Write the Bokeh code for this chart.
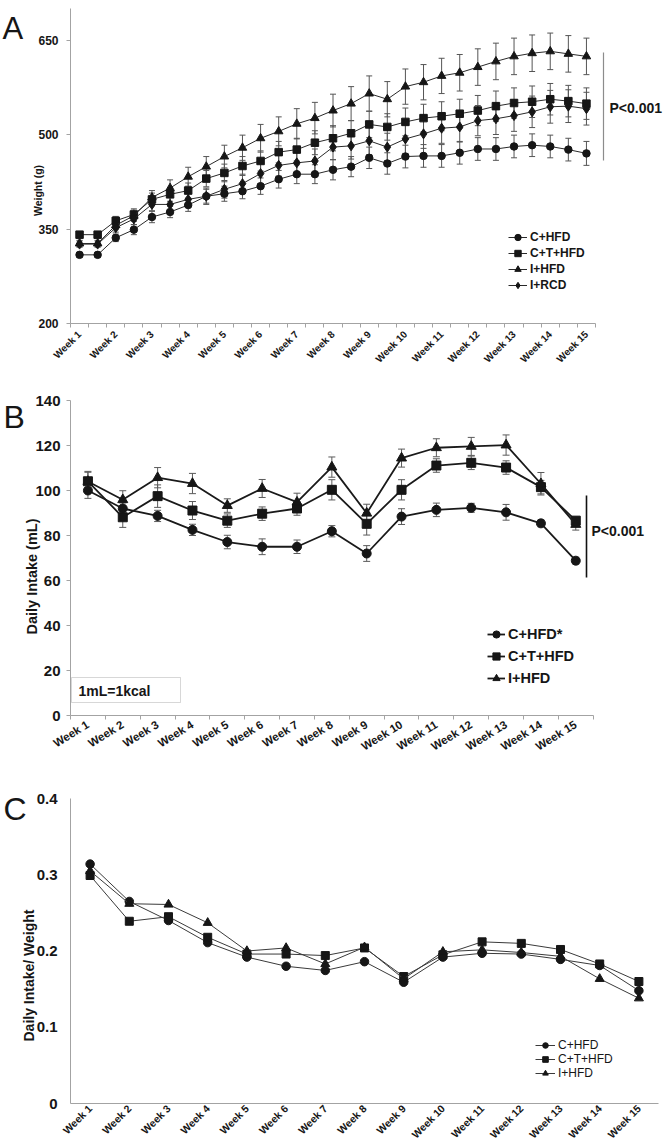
from math import pi
from bokeh.plotting import figure
from bokeh.layouts import column
from bokeh.models import (ColumnDataSource, Whisker, TeeHead, Legend, LegendItem,
                          FixedTicker, Label, BoxAnnotation, Range1d)
from bokeh.embed import file_html
from bokeh.resources import INLINE

FONT = "Liberation Sans"
INK = "#161616"
AXIS = "#a3a3a3"

# ---------------- data ----------------
week_labels = ["Week 1", "Week 2", "Week 3", "Week 4", "Week 5", "Week 6", "Week 7",
               "Week 8", "Week 9", "Week 10", "Week 11", "Week 12", "Week 13",
               "Week 14", "Week 15"]

# Panel A: body weight (g), two readings per week (29 points)
a_names = ["C+HFD", "C+T+HFD", "I+HFD", "I+RCD"]
a_c_hfd = [309, 309, 336, 349, 369, 377, 388, 402, 406, 410, 418, 429, 437, 437, 444,
           449, 463, 454, 465, 466, 466, 471, 477, 477, 481, 483, 481, 476, 470]
a_ct_hfd = [341, 341, 363, 373, 397, 405, 411, 430, 439, 450, 458, 472, 476, 487, 494,
            502, 516, 512, 520, 526, 529, 533, 538, 545, 550, 552, 556, 553, 549]
a_i_hfd = [327, 327, 356, 371, 400, 415, 433, 449, 465, 479, 494, 505, 517, 526, 538,
           549, 565, 556, 576, 583, 593, 598, 607, 616, 624, 629, 632, 628, 624]
a_i_rcd = [326, 326, 352, 366, 389, 389, 397, 402, 413, 422, 438, 451, 455, 458, 480,
           482, 490, 480, 493, 501, 510, 512, 522, 525, 530, 536, 544, 545, 541]
a_c_hfd_err = [4, 4, 6, 8, 9, 9, 10, 11, 12, 12, 13, 14, 15, 15, 16,
               16, 17, 17, 18, 18, 18, 18, 18, 18, 18, 18, 18, 18, 19]
a_ct_hfd_err = [5, 5, 7, 9, 10, 11, 12, 13, 14, 15, 16, 17, 18, 19, 20,
                20, 21, 21, 22, 22, 23, 23, 24, 24, 24, 25, 25, 25, 25]
a_i_hfd_err = [5, 5, 7, 9, 11, 13, 15, 16, 18, 20, 22, 23, 24, 25, 26,
               27, 28, 28, 28, 28, 28, 29, 29, 29, 29, 29, 29, 29, 29]
a_i_rcd_err = [5, 5, 7, 9, 10, 11, 12, 13, 14, 15, 16, 17, 18, 19, 20,
               21, 22, 22, 23, 23, 24, 24, 24, 25, 25, 25, 26, 26, 26]
a_ticks = [200, 350, 500, 650]

# Panel B: daily intake (mL)
b_names = ["C+HFD*", "C+T+HFD", "I+HFD"]
b_c_hfd = [100, 92, 88.7, 82.5, 77.1, 75, 75, 81.9, 72, 88.4, 91.4, 92.3, 90.3, 85.4, 68.8]
b_ct_hfd = [104.1, 88.1, 97.5, 91.1, 86.6, 89.7, 92, 100.3, 85.2, 100.3, 111.1, 112.3,
            110.2, 101.5, 86.6]
b_i_hfd = [104, 95.9, 105.7, 103.1, 93.3, 100.9, 94.8, 110.4, 89.9, 114.4, 119, 119.6,
           120.2, 103, 84.9]
b_c_hfd_err = [3.5, 2.5, 2.5, 2.5, 3, 3.5, 3, 2.5, 3.5, 3.5, 3, 2, 3.5, 1.5, 1.5]
b_ct_hfd_err = [4, 4.5, 5, 4, 3, 3, 3, 4.5, 5, 4.5, 3, 3, 3, 3, 1.5]
b_i_hfd_err = [4.5, 4, 4.5, 4.5, 3, 4, 4, 4.5, 4, 4, 4, 4, 4.5, 5, 2.5]
b_ticks = [0, 20, 40, 60, 80, 100, 120, 140]

# Panel C: daily intake / weight
c_names = ["C+HFD", "C+T+HFD", "I+HFD"]
c_c_hfd = [0.314, 0.265, 0.240, 0.211, 0.192, 0.180, 0.1745, 0.186, 0.159, 0.192, 0.197,
           0.196, 0.189, 0.181, 0.148]
c_ct_hfd = [0.299, 0.239, 0.245, 0.218, 0.196, 0.196, 0.194, 0.204, 0.1665, 0.195, 0.212,
            0.210, 0.202, 0.183, 0.160]
c_i_hfd = [0.305, 0.262, 0.261, 0.237, 0.200, 0.204, 0.183, 0.205, 0.1635, 0.199, 0.2015,
           0.198, 0.193, 0.1635, 0.138]
c_ticks = [0, 0.1, 0.2, 0.3, 0.4]
c_tick_labels = ["0", "0.1", "0.2", "0.3", "0.4"]

# ---------------- layout helpers ----------------
W = 666
PAGE_LEFT = 0      # page x of every figure's left edge (Bokeh template: no body margin)
AXIS_X = 70        # page x of the y axes


class Frame:
    """page-pixel -> data conversion for one panel"""
    def __init__(self, fig_top, fig_bottom, ax_top, ax_bottom, cat_px, y0, y1):
        self.fig_top, self.fig_bottom = fig_top, fig_bottom
        self.ax_top, self.ax_bottom = ax_top, ax_bottom
        self.cat_px, self.y0, self.y1 = cat_px, y0, y1

    def x(self, px):
        return (px - AXIS_X) / self.cat_px - 0.5

    def y(self, py):
        return self.y0 + (self.ax_bottom - py) / (self.ax_bottom - self.ax_top) * (self.y1 - self.y0)


def make_panel(f):
    h = f.fig_bottom - f.fig_top
    p = figure(width=W, height=h, output_backend="svg", toolbar_location=None,
               x_range=Range1d(f.x(PAGE_LEFT), f.x(PAGE_LEFT + W)),
               y_range=Range1d(f.y(f.fig_bottom), f.y(f.fig_top)),
               min_border=0, min_border_left=0, min_border_right=0,
               min_border_top=0, min_border_bottom=0)
    p.outline_line_color = None
    p.xgrid.visible = False
    p.ygrid.visible = False
    p.background_fill_color = "white"
    p.border_fill_color = "white"
    return p


def style_yaxis(p, ticks, font_px, standoff, tick_out, bounds, labels=None):
    ax = p.yaxis[0]
    ax.fixed_location = -0.5
    ax.bounds = bounds
    ax.ticker = FixedTicker(ticks=ticks, minor_ticks=[])
    if labels:
        ax.major_label_overrides = {t: l for t, l in zip(ticks, labels)}
    ax.axis_line_color = AXIS
    ax.major_tick_line_color = AXIS if tick_out else None
    ax.major_tick_out = tick_out
    ax.major_tick_in = 0
    ax.minor_tick_line_color = None
    ax.major_label_text_font = FONT
    ax.major_label_text_font_style = "bold"
    ax.major_label_text_font_size = f"{font_px}px"
    ax.major_label_text_color = INK
    ax.major_label_standoff = standoff


def style_xaxis(p, ticks, labels, n_cats, minor, angle, font_px, standoff, y_at):
    ax = p.xaxis[0]
    ax.fixed_location = y_at
    ax.ticker = FixedTicker(ticks=ticks, minor_ticks=minor)
    ax.bounds = (-0.5, n_cats - 0.5)
    ax.major_label_overrides = {t: l for t, l in zip(ticks, labels)}
    ax.axis_line_color = AXIS
    ax.major_tick_line_color = None
    ax.major_tick_out = 0
    ax.major_tick_in = 0
    ax.minor_tick_line_color = AXIS if minor else None
    ax.minor_tick_out = 4
    ax.minor_tick_in = 0
    ax.major_label_orientation = angle
    ax.major_label_text_font = FONT
    ax.major_label_text_font_style = "bold"
    ax.major_label_text_font_size = f"{font_px}px"
    ax.major_label_text_color = INK
    ax.major_label_standoff = standoff


def add_series(p, x, y, marker, size, lw, color):
    rl = p.line(x, y, line_color=color, line_width=lw)
    rs = p.scatter(x, y, marker=marker, size=size, fill_color=INK, line_color=INK)
    return [rl, rs]


def add_err(p, x, y, err, color, head):
    src = ColumnDataSource(dict(x=x, upper=[a + b for a, b in zip(y, err)],
                                lower=[a - b for a, b in zip(y, err)]))
    w = Whisker(source=src, base="x", upper="upper", lower="lower",
                line_color=color, line_width=1, level="underlay",
                upper_head=TeeHead(size=head, line_color=color, line_width=1),
                lower_head=TeeHead(size=head, line_color=color, line_width=1))
    p.add_layout(w)


def add_text(p, x, y, text, size, style="bold", align="left", baseline="middle", angle=0):
    p.add_layout(Label(x=x, y=y, text=text, text_font=FONT, text_font_size=f"{size}px",
                       text_font_style=style, text_align=align, text_baseline=baseline,
                       angle=angle, text_color=INK))


def add_legend(p, f, names, rends, page_x, page_bottom, gw, gh, font_px, style):
    items = [LegendItem(label=n, renderers=r) for n, r in zip(names, rends)]
    leg = Legend(items=items, location=(page_x - PAGE_LEFT, f.fig_bottom - page_bottom),
                 orientation="vertical", padding=0, margin=0, spacing=0,
                 glyph_width=gw, glyph_height=gh, label_height=gh, label_standoff=3,
                 label_text_font=FONT, label_text_font_style=style,
                 label_text_font_size=f"{font_px}px", label_text_color=INK,
                 border_line_color=None, background_fill_alpha=0)
    p.add_layout(leg)


# ---------------- Panel A ----------------
nA = len(a_c_hfd)
fA = Frame(0, 373, 8, 323, 525 / nA, 200, 700)
pA = make_panel(fA)
xA = list(range(nA))
style_yaxis(pA, a_ticks, 12, 8, 4, (200, 700))
style_xaxis(pA, list(range(0, nA, 2)), week_labels, nA,
            [i - 0.5 for i in range(nA + 1)], pi / 4, 10, 5, 200)
a_series = [(a_c_hfd, a_c_hfd_err, "circle", 7.5),
            (a_ct_hfd, a_ct_hfd_err, "square", 7.5),
            (a_i_hfd, a_i_hfd_err, "triangle", 8.5),
            (a_i_rcd, a_i_rcd_err, "diamond", 10)]
for y, e, m, s in a_series:
    add_err(pA, xA, y, e, "#555555", 6)
rendsA = [add_series(pA, xA, y, m, s, 1, "#2a2a2a") for y, e, m, s in a_series]
add_legend(pA, fA, a_names, rendsA, 508, 293, 19, 16, 12, "bold")
pA.segment(x0=[fA.x(603)], y0=[fA.y(160)], x1=[fA.x(603)], y1=[fA.y(52)],
           line_color="#8c8c8c", line_width=1.2)
add_text(pA, fA.x(609), fA.y(107), "P<0.001", 14)
add_text(pA, fA.x(2), fA.y(28), "A", 31, style="normal", baseline="alphabetic")
add_text(pA, fA.x(37), fA.y(190), "Weight (g)", 10.5, align="center", angle=pi / 2)

# ---------------- Panel B ----------------
nB = len(b_c_hfd)
fB = Frame(373, 765, 400, 715, 522.7 / nB, 0, 140)
pB = make_panel(fB)
xB = list(range(nB))
style_yaxis(pB, b_ticks, 15, 6, 4, (0, 140))
style_xaxis(pB, xB, week_labels, nB, [i - 0.5 for i in range(nB + 1)], 0.55, 11.5, 4, 0)
b_series = [(b_c_hfd, b_c_hfd_err, "circle", 9),
            (b_ct_hfd, b_ct_hfd_err, "square", 9),
            (b_i_hfd, b_i_hfd_err, "triangle", 10)]
for y, e, m, s in b_series:
    add_err(pB, xB, y, e, "#5a5a5a", 7)
rendsB = [add_series(pB, xB, y, m, s, 1.8, "#1a1a1a") for y, e, m, s in b_series]
add_legend(pB, fB, b_names, rendsB, 487, 689, 18, 22, 14.5, "bold")
pB.segment(x0=[fB.x(586)], y0=[fB.y(495)], x1=[fB.x(586)], y1=[fB.y(577)],
           line_color="#111111", line_width=1.6)
add_text(pB, fB.x(591), fB.y(530), "P<0.001", 14)
pB.add_layout(BoxAnnotation(left=fB.x(71), right=fB.x(180), top=fB.y(677),
                            bottom=fB.y(702), fill_color="white", fill_alpha=1,
                            line_color="#7a7a7a", line_width=1, level="underlay"))
add_text(pB, fB.x(78), fB.y(690), "1mL=1kcal", 14)
add_text(pB, fB.x(3), fB.y(416), "B", 32, style="normal", baseline="alphabetic")
add_text(pB, fB.x(31), fB.y(576), "Daily Intake (mL)", 14.5, align="center", angle=pi / 2)

# ---------------- Panel C ----------------
nC = len(c_c_hfd)
fC = Frame(765, 1147, 798, 1103, 588 / nC, 0, 0.4)
pC = make_panel(fC)
xC = list(range(nC))
style_yaxis(pC, c_ticks, 15, 13, 0, (0, 0.4), c_tick_labels)
style_xaxis(pC, xC, week_labels, nC, [], pi / 4, 10.5, 3, 0)
c_series = [(c_c_hfd, "circle", 8.5),
            (c_ct_hfd, "square", 8),
            (c_i_hfd, "triangle", 9)]
rendsC = [add_series(pC, xC, y, m, s, 1, "#3a3a3a") for y, m, s in c_series]
add_legend(pC, fC, c_names, rendsC, 535, 1080, 20, 14, 12, "normal")
add_text(pC, fC.x(3), fC.y(808), "C", 32, style="normal", baseline="alphabetic")
add_text(pC, fC.x(28), fC.y(975), "Daily Intake/ Weight", 14, align="center", angle=pi / 2)

layout = column(pA, pB, pC, spacing=0)
open("out.html", "w").write(file_html(layout, INLINE))
